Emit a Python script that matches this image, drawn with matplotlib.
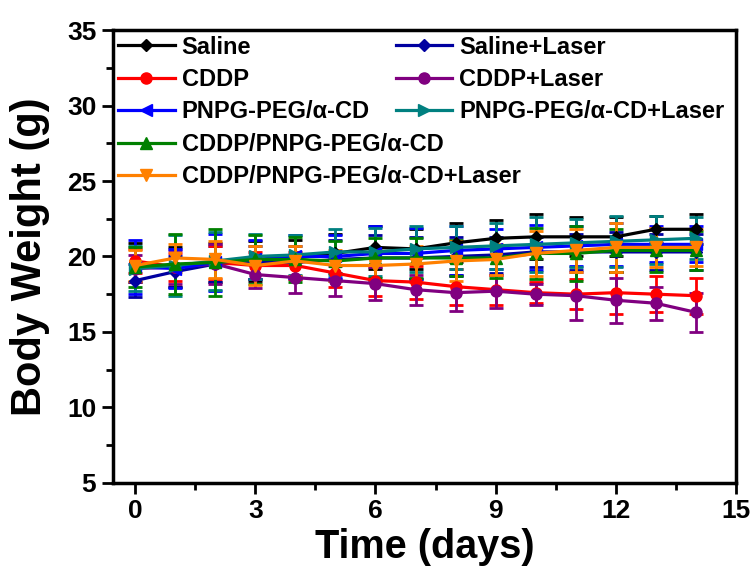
import numpy as np
import matplotlib
matplotlib.use('Agg')
import matplotlib.pyplot as plt
from matplotlib.lines import Line2D

days = list(range(15))

labels = ['Saline', 'Saline+Laser', 'CDDP', 'CDDP+Laser',
          'PNPG-PEG/\u03b1-CD', 'PNPG-PEG/\u03b1-CD+Laser',
          'CDDP/PNPG-PEG/\u03b1-CD', 'CDDP/PNPG-PEG/\u03b1-CD+Laser']

saline = [19.6, 19.3, 19.6, 19.7, 19.9, 20.2, 20.6, 20.5, 20.9, 21.2, 21.3, 21.3, 21.3, 21.8, 21.8]
saline_laser = [18.4, 19.0, 19.5, 19.6, 19.6, 19.8, 19.9, 19.9, 20.0, 20.1, 20.3, 20.3, 20.3, 20.3, 20.3]
cddp = [19.7, 19.3, 19.6, 19.4, 19.4, 18.9, 18.4, 18.3, 18.0, 17.8, 17.6, 17.5, 17.6, 17.5, 17.4]
cddp_laser = [19.2, 19.3, 19.5, 18.8, 18.6, 18.4, 18.2, 17.8, 17.6, 17.7, 17.5, 17.4, 17.1, 16.9, 16.3]
pnpg = [19.3, 19.2, 19.6, 19.8, 20.0, 20.0, 20.2, 20.2, 20.4, 20.5, 20.6, 20.7, 20.8, 20.8, 20.8]
pnpg_laser = [19.2, 19.4, 19.7, 20.0, 20.1, 20.3, 20.3, 20.5, 20.6, 20.7, 20.8, 20.9, 21.0, 21.1, 21.2]
cddp_pnpg = [19.3, 19.5, 19.6, 19.8, 19.8, 19.7, 19.9, 19.9, 19.9, 19.9, 20.2, 20.2, 20.4, 20.4, 20.4]
cddp_pnpg_laser = [19.4, 19.9, 19.8, 19.4, 19.7, 19.4, 19.4, 19.5, 19.7, 19.8, 20.2, 20.4, 20.6, 20.6, 20.6]

saline_err = [1.3, 1.3, 1.3, 1.3, 1.2, 1.3, 1.4, 1.3, 1.3, 1.2, 1.5, 1.3, 1.3, 0.9, 1.0]
saline_laser_err = [1.1, 1.0, 1.2, 1.1, 1.1, 1.3, 1.5, 1.4, 1.3, 1.2, 1.0, 1.2, 1.3, 1.2, 1.2]
cddp_err = [0.8, 0.9, 1.1, 0.9, 0.9, 0.9, 1.0, 1.1, 1.2, 1.0, 0.7, 1.0, 1.4, 1.2, 1.2]
cddp_laser_err = [0.9, 1.1, 1.3, 0.9, 1.0, 1.0, 1.1, 1.0, 1.2, 1.1, 0.7, 1.6, 1.5, 1.1, 1.3]
pnpg_err = [1.8, 1.3, 1.9, 1.3, 1.4, 1.4, 1.8, 1.7, 1.6, 1.3, 1.5, 1.3, 1.4, 1.2, 1.2]
pnpg_laser_err = [1.5, 2.0, 1.9, 1.5, 1.3, 1.5, 1.6, 1.5, 1.4, 1.5, 1.8, 1.6, 1.7, 1.6, 1.4]
cddp_pnpg_err = [1.3, 2.0, 2.2, 1.6, 1.5, 1.3, 1.3, 1.3, 1.2, 1.3, 1.7, 1.8, 1.4, 1.4, 1.3]
cddp_pnpg_laser_err = [1.0, 0.9, 1.2, 1.3, 1.0, 1.0, 1.0, 1.2, 1.3, 1.0, 1.5, 1.4, 1.6, 1.3, 1.2]

series = [saline, saline_laser, cddp, cddp_laser, pnpg, pnpg_laser, cddp_pnpg, cddp_pnpg_laser]
errors = [saline_err, saline_laser_err, cddp_err, cddp_laser_err, pnpg_err, pnpg_laser_err,
          cddp_pnpg_err, cddp_pnpg_laser_err]
colors = ['black', '#0000A0', '#FF0000', '#800080', '#0000FF', '#008080', '#008000', '#FF8000']
markers = ['D', 'D', 'o', 'o', '<', '>', '^', 'v']
msizes = [6, 6, 8, 8, 8, 8, 8, 8]

plt.rcParams['font.family'] = ['Liberation Sans', 'DejaVu Sans']
plt.rcParams['font.weight'] = 'bold'

fig = plt.figure(figsize=(7.53, 5.68), dpi=100)
ax = fig.add_axes([0.150, 0.150, 0.827, 0.797])

handles = []
for vals, err, c, m, ms, lab in zip(series, errors, colors, markers, msizes, labels):
    ax.errorbar(days, vals, yerr=err, color=c, marker=m, markersize=ms, linewidth=2.3,
                elinewidth=2, capsize=5, capthick=2)
    handles.append(Line2D([], [], color=c, marker=m, markersize=ms, linewidth=2.3, label=lab))

ax.set_xlim(-0.56, 15)
ax.set_ylim(5, 35)
ax.set_xticks(np.arange(0, 16, 3))
ax.set_xticks(np.arange(1.5, 15, 3), minor=True)
ax.set_yticks(np.arange(5, 36, 5))
ax.set_yticks(np.arange(7.5, 35, 5), minor=True)
ax.tick_params(axis='both', which='major', direction='out', length=8, width=2,
               labelsize=19, pad=4)
ax.tick_params(axis='both', which='minor', direction='out', length=5, width=2)
for lbl in ax.get_xticklabels() + ax.get_yticklabels():
    lbl.set_fontweight('bold')
for sp in ax.spines.values():
    sp.set_linewidth(2.5)

ax.set_xlabel('Time (days)', fontsize=28.5, fontweight='bold', labelpad=3)
ax.set_ylabel('Body Weight (g)', fontsize=30, fontweight='bold', labelpad=12)

leg_kw = dict(loc='upper left', frameon=False, prop={'size': 17, 'weight': 'bold'},
              handlelength=2.4, handletextpad=0.3, labelspacing=0.4,
              borderaxespad=0.0, borderpad=0.0)
left_idx = [0, 2, 4, 6, 7]
right_idx = [1, 3, 5]
leg1 = ax.legend([handles[i] for i in left_idx], [labels[i] for i in left_idx],
                 bbox_to_anchor=(0.008, 0.988), **leg_kw)
ax.add_artist(leg1)
ax.legend([handles[i] for i in right_idx], [labels[i] for i in right_idx],
          bbox_to_anchor=(0.454, 0.988), **leg_kw)

fig.savefig('out.png', dpi=100)
